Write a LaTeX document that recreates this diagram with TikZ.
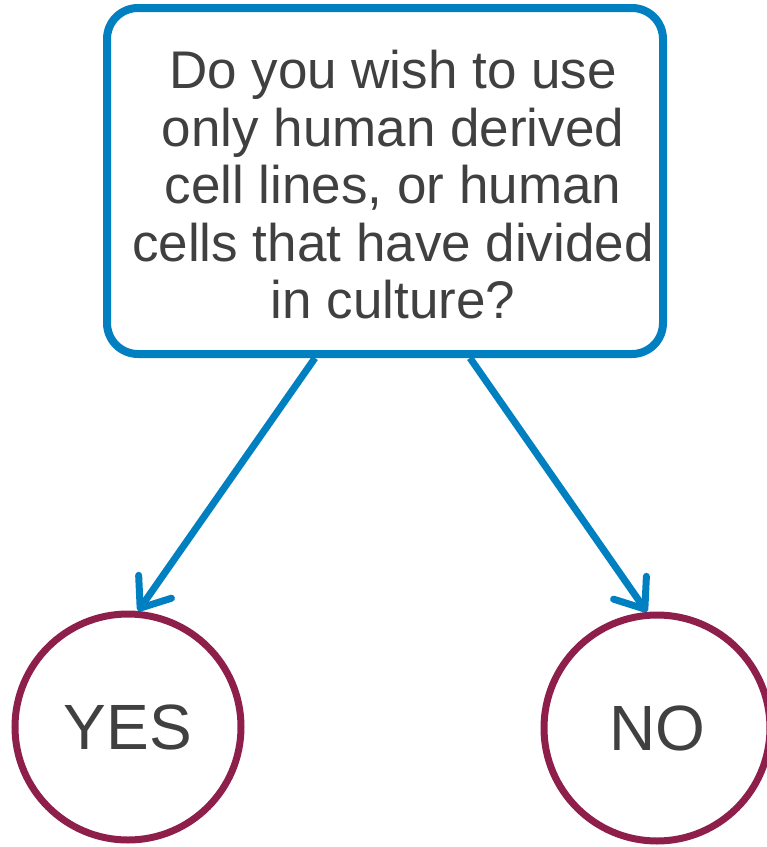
\documentclass[tikz,border=0pt]{standalone}
\usepackage{fontspec}
\setmainfont{Liberation Sans}
\usetikzlibrary{arrows.meta}
\definecolor{qblue}{HTML}{0080C0}
\definecolor{ansred}{HTML}{8E1F4B}
\definecolor{txtgray}{HTML}{404040}
\begin{document}
\begin{tikzpicture}[x=1pt,y=-1pt,
	question/.style={draw=qblue,line width=8pt,rounded corners=31pt,minimum width=556pt,minimum height=346pt},
	qtext/.style={align=center,text=txtgray,font=\fontsize{53}{57.5}\selectfont},
	answer/.style={circle,draw=ansred,line width=7pt,minimum size=226pt,text=txtgray,font=\fontsize{64}{70}\selectfont},
	link/.style={draw=qblue,line width=7pt,-{Straight Barb[length=26pt,width=40pt,line cap=round,line join=round]}}]
		\useasboundingbox (0,0) rectangle (767,847);
		\node[question] (q) at (385,181) {};
		\node[qtext] (qt) at (393,185) {Do you wish to use\\only human derived\\cell lines, or human\\cells that have divided\\in culture?};
		\node[answer] (yes) at (128,727) {YES};
		\node[answer] (no) at (657,728) {NO};
		\draw[link] ([xshift=-70pt]q.south) -- (yes.85);
		\draw[link] ([xshift=85pt]q.south) -- (no.95);
\end{tikzpicture}
\end{document}
